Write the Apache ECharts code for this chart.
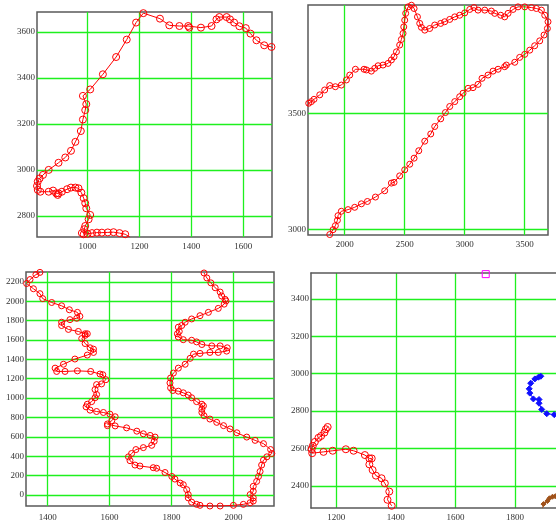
<!DOCTYPE html>
<html><head><meta charset="utf-8">
<script src="https://cdn.jsdelivr.net/npm/echarts@6/dist/echarts.min.js"></script>
<style>html,body{margin:0;padding:0;background:#fff}#c{width:556px;height:522px}</style>
</head><body><div id="c"></div>
<script>
// ---- tick labels ----
const p1XTicks = [1000, 1200, 1400, 1600];
const p1YTicks = [2800, 3000, 3200, 3400, 3600];
const p2XTicks = [2000, 2500, 3000, 3500];
const p2YTicks = [3000, 3500];
const p3XTicks = [1400, 1600, 1800, 2000];
const p3YTicks = [0, 200, 400, 600, 800, 1000, 1200, 1400, 1600, 1800, 2000, 2200];
const p4XTicks = [1200, 1400, 1600, 1800];
const p4YTicks = [2400, 2600, 2800, 3000, 3200, 3400];

// ---- panel 1 (top-left) ----
const p1Red = [
 [1164,2707],[1145,2720],[1123,2725],[1100,2729],[1078,2728],[1055,2727],[1036,2727],[1017,2725],[1000,2722],[985,2720],[978,2725],
 [987,2742],[991,2756],[1004,2785],[1010,2804],[995,2833],[991,2855],[985,2877],[976,2901],[965,2920],[953,2923],[936,2923],
 [921,2916],[901,2905],[888,2898],[885,2891],[879,2898],[867,2910],[850,2905],[818,2905],[808,2913],[805,2930],[808,2949],
 [815,2963],[828,2978],[850,3000],[888,3031],[914,3054],[936,3083],[953,3122],[974,3169],[982,3219],[991,3260],[995,3286],
 [982,3322],[1010,3350],[1059,3416],[1110,3491],[1151,3567],[1187,3641],[1215,3682],[1279,3658],[1315,3629],[1354,3626],
 [1388,3626],[1392,3619],[1437,3619],[1478,3626],[1497,3655],[1508,3665],[1536,3665],[1549,3655],[1565,3641],[1585,3625],
 [1610,3617],[1628,3593],[1651,3564],[1681,3542],[1709,3535],[1728,3523]
];

// ---- panel 2 (top-right) ----
const p2Red = [
 [1875,2979],[1903,3000],[1922,3017],[1939,3040],[1944,3060],[1972,3079],[2028,3086],[2083,3096],[2139,3111],[2189,3121],
 [2256,3140],[2333,3167],[2389,3200],[2411,3203],[2458,3231],[2500,3257],[2542,3281],[2578,3307],[2617,3339],[2667,3380],
 [2717,3411],[2750,3443],[2800,3476],[2839,3503],[2875,3529],[2917,3550],[2958,3571],[2986,3586],[3028,3607],[3069,3610],
 [3111,3624],[3144,3650],[3194,3664],[3236,3681],[3278,3689],[3333,3700],[3347,3707],[3417,3719],[3458,3740],[3500,3753],
 [3542,3771],[3583,3790],[3625,3811],[3661,3836],[3689,3864],[3694,3893],[3667,3921],[3639,3943],[3597,3950],[3556,3954],
 [3500,3957],[3444,3957],[3403,3946],[3361,3929],[3333,3914],[3300,3921],[3250,3929],[3222,3939],[3167,3943],[3111,3943],
 [3078,3954],[3042,3946],[3000,3931],[2958,3921],[2917,3914],[2875,3903],[2833,3893],[2800,3886],[2750,3879],[2708,3864],
 [2667,3857],[2639,3869],[2625,3886],[2606,3914],[2578,3950],[2556,3964],[2528,3957],[2508,3929],[2500,3900],[2492,3871],
 [2486,3843],[2472,3817],[2458,3793],[2431,3764],[2411,3743],[2389,3729],[2361,3714],[2319,3707],[2278,3704],[2250,3693],
 [2222,3681],[2181,3686],[2161,3689],[2089,3689],[2042,3664],[2014,3643],[1972,3621],[1922,3614],[1875,3619],[1833,3600],
 [1792,3579],[1744,3560],[1722,3550],[1700,3543],[1689,3531]
];

// ---- panel 3 (bottom-left) ----
const p3Red = [
 [1375,2298],[1362,2275],[1343,2224],[1332,2183],[1354,2129],[1375,2078],[1384,2027],[1413,1987],[1445,1953],[1470,1912],
 [1496,1885],[1504,1844],[1494,1824],[1472,1810],[1445,1783],[1445,1749],[1467,1709],[1499,1688],[1521,1664],[1528,1664],
 [1521,1648],[1510,1614],[1521,1563],[1537,1519],[1548,1505],[1548,1471],[1528,1444],[1488,1403],[1451,1349],[1424,1309],
 [1429,1275],[1456,1275],[1496,1281],[1539,1275],[1569,1248],[1578,1241],[1588,1190],[1574,1146],[1558,1139],[1553,1088],
 [1558,1037],[1553,1003],[1542,963],[1528,936],[1524,909],[1537,875],[1558,861],[1580,851],[1601,834],[1618,807],
 [1607,766],[1593,732],[1593,715],[1618,712],[1655,692],[1688,658],[1709,631],[1731,614],[1747,597],[1744,553],
 [1736,512],[1709,488],[1685,468],[1671,427],[1661,393],[1666,353],[1682,308],[1698,298],[1741,281],[1752,275],
 [1779,231],[1801,190],[1811,163],[1828,122],[1838,105],[1849,54],[1854,3],[1854,-31],[1865,-75],[1881,-98],
 [1892,-108],[1924,-115],[1957,-115],[2000,-108],[2032,-98],[2054,-81],[2064,-64],[2064,-31],[2054,3],[2064,37],
 [2064,88],[2075,139],[2081,190],[2086,241],[2091,308],[2097,359],[2108,393],[2124,427],[2120,468],[2097,529],
 [2070,563],[2043,597],[2011,641],[1989,681],[1968,715],[1946,749],[1924,783],[1905,817],[1898,851],[1898,885],
 [1903,919],[1898,936],[1881,963],[1865,1003],[1854,1031],[1838,1054],[1822,1071],[1804,1078],[1797,1105],[1795,1156],
 [1797,1207],[1806,1258],[1822,1309],[1844,1349],[1860,1410],[1871,1454],[1892,1461],[1924,1471],[1951,1471],[1978,1485],
 [1980,1519],[1957,1539],[1930,1539],[1898,1553],[1881,1580],[1865,1597],[1838,1603],[1822,1631],[1819,1664],[1825,1688],
 [1822,1732],[1833,1749],[1844,1783],[1865,1817],[1892,1851],[1919,1885],[1951,1926],[1970,1970],[1976,2003],[1973,2020],
 [1962,2054],[1957,2095],[1941,2139],[1927,2190],[1914,2241],[1905,2292]
];

// ---- panel 4 (bottom-right) ----
const p4Red = [
 [1171,2715],[1165,2703],[1160,2685],[1149,2667],[1140,2657],[1128,2635],[1121,2614],[1117,2596],[1119,2575],[1157,2582],
 [1188,2588],[1232,2596],[1258,2588],[1296,2565],[1311,2547],[1319,2547],[1311,2515],[1322,2485],[1333,2455],[1352,2441],
 [1363,2414],[1378,2370],[1372,2326],[1386,2294]
];
const p4Blue = [
 [1887,2986],[1879,2981],[1867,2972],[1853,2949],[1848,2919],[1850,2896],[1862,2865],[1881,2862],[1881,2842],[1890,2809],
 [1907,2786],[1932,2781],[1945,2776]
];
const p4Brown = [[1893,2281],[1896,2303],[1909,2319],[1916,2334],[1926,2342],[1935,2345]];
const p4Magenta = [[1702,3532]];

const FONT = 'Liberation Serif';
const GRID_GREEN = '#1ef01e';
const FRAME = '#5a5a5a';
const fmt = v => String(v);

function xAx(i, min, max, ticks, line, margin) {
  return {type:'value', gridIndex:i, min:min, max:max,
    axisLine:{show:!!line, onZero:false, lineStyle:{color:FRAME, width:1.5}}, axisTick:{show:false, customValues:ticks},
    axisLabel:{customValues:ticks, formatter:fmt, fontFamily:FONT, fontSize:9, color:'#333', margin:margin || 5},
    splitLine:{show:true, lineStyle:{color:GRID_GREEN, width:1.3}}};
}
function yAx(i, min, max, ticks, line) {
  return {type:'value', gridIndex:i, min:min, max:max,
    axisLine:{show:!!line, onZero:false, lineStyle:{color:FRAME, width:1.5}}, axisTick:{show:false, customValues:ticks},
    axisLabel:{customValues:ticks, formatter:fmt, fontFamily:FONT, fontSize:9, color:'#333', margin:2},
    splitLine:{show:true, lineStyle:{color:GRID_GREEN, width:1.3}}};
}
function openSeries(i, data, color, symbol, size) {
  return {type:'line', xAxisIndex:i, yAxisIndex:i, data:data, symbol:symbol, symbolSize:size,
    showAllSymbol:true, animation:false, clip:true,
    lineStyle:{color:color, width:1}, itemStyle:{color:'rgba(255,255,255,0)', borderColor:color, borderWidth:1}};
}
function filledSeries(i, data, color, symbol, size) {
  return {type:'line', xAxisIndex:i, yAxisIndex:i, data:data, symbol:symbol, symbolSize:size,
    showAllSymbol:true, animation:false, clip:true,
    lineStyle:{color:color, width:1}, itemStyle:{color:color, borderColor:color, borderWidth:1}};
}

const gridBase = {show:true, borderColor:FRAME, borderWidth:1.5, backgroundColor:'#fff', containLabel:false};
const chart = echarts.init(document.getElementById('c'), null, {renderer:'canvas'});
chart.setOption({
  animation:false,
  backgroundColor:'#fff',
  grid:[
    Object.assign({left:37, top:12, width:235, height:225}, gridBase),
    Object.assign({left:308, top:5, width:240, height:230}, gridBase),
    Object.assign({left:26, top:272, width:248, height:238}, gridBase),
    {left:311, top:273, width:245, height:237, show:false, containLabel:false}
  ],
  xAxis:[
    xAx(0, 805, 1711, p1XTicks),
    xAx(1, 1694, 3694, p2XTicks),
    xAx(2, 1330, 2131, p3XTicks, false, 7),
    xAx(3, 1115, 1938, p4XTicks, true),
    {type:'value', gridIndex:3, position:'top', min:1115, max:1938,
     axisLine:{show:true, onZero:false, lineStyle:{color:FRAME, width:1.5}},
     axisTick:{show:false}, axisLabel:{show:false}, splitLine:{show:false}}
  ],
  yAxis:[
    yAx(0, 2708, 3687, p1YTicks),
    yAx(1, 2977, 3965, p2YTicks),
    yAx(2, -115, 2302, p3YTicks),
    yAx(3, 2282, 3538, p4YTicks, true)
  ],
  series:[
    openSeries(0, p1Red, '#ff0000', 'circle', 7),
    openSeries(1, p2Red, '#ff0000', 'circle', 6),
    openSeries(2, p3Red, '#ff0000', 'circle', 6),
    openSeries(3, p4Red, '#ff0000', 'circle', 7),
    filledSeries(3, p4Blue, '#1010ff', 'diamond', 6),
    filledSeries(3, p4Brown, '#a0521a', 'diamond', 5),
    openSeries(3, p4Magenta, '#ff00ff', 'rect', 7)
  ]
});
</script>
</body></html>
